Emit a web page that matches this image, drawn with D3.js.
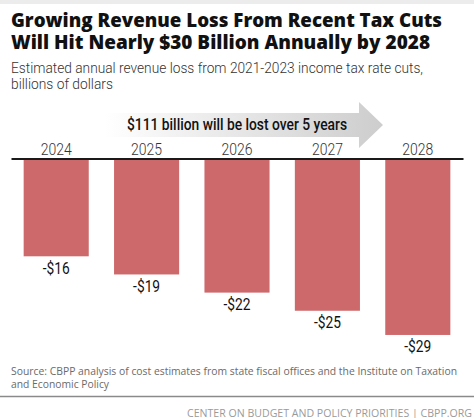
<!DOCTYPE html>
<html><head><meta charset="utf-8">
<script src="https://cdn.jsdelivr.net/npm/d3@7"></script>
<style>body{margin:0;background:#fff}svg{display:block}</style>
</head><body>
<script>
const years = ["2024","2025","2026","2027","2028"];
const losses = [16, 19, 22, 25, 29];
const valueLabels = ["-$16","-$19","-$22","-$25","-$29"];
const titleLines = ["Growing Revenue Loss From Recent Tax Cuts","Will Hit Nearly $30 Billion Annually by 2028"];
const subtitleLines = ["Estimated annual revenue loss from 2021-2023 income tax rate cuts,","billions of dollars"];
const arrowText = "$111 billion will be lost over 5 years";
const sourceLines = ["Source: CBPP analysis of cost estimates from state fiscal offices and the Institute on Taxation","and Economic Policy"];
const footer = "CENTER ON BUDGET AND POLICY PRIORITIES | CBPP.ORG";

const W = 474, H = 418;
const svg = d3.select("body").append("svg").attr("width", W).attr("height", H);
svg.append("rect").attr("width", W).attr("height", H).attr("fill", "#fff");
svg.append("rect").attr("width", W).attr("height", 4).attr("fill", "#ececec");

function fit(sel, len){ sel.attr("textLength", len).attr("lengthAdjust", "spacingAndGlyphs"); }

// Title
const titleW = [431, 419];
titleLines.forEach((t,i)=>{
  svg.append("text").attr("x", 11).attr("y", 27 + i*21.5)
    .attr("font-family","'Open Sans', sans-serif").attr("font-weight",800).attr("font-size",19.5)
    .attr("fill","#111").text(t).call(fit, titleW[i]);
});
const subW = [412, 102];
subtitleLines.forEach((t,i)=>{
  svg.append("text").attr("x", 11).attr("y", 73 + i*15.5)
    .attr("font-family","Roboto, sans-serif").attr("font-weight",300).attr("font-size",14.5)
    .attr("fill","#333").text(t).call(fit, subW[i]);
});

// Arrow
const defs = svg.append("defs");
const grad = defs.append("linearGradient").attr("id","ag").attr("x1","0").attr("x2","1").attr("y1","0").attr("y2","0");
grad.append("stop").attr("offset","0%").attr("stop-color","#ffffff");
grad.append("stop").attr("offset","25%").attr("stop-color","#f2f2f2");
grad.append("stop").attr("offset","100%").attr("stop-color","#cdcdcd");
const arrowPath = d3.path();
arrowPath.moveTo(105,113); arrowPath.lineTo(359,113); arrowPath.lineTo(359,102);
arrowPath.lineTo(383,125); arrowPath.lineTo(359,148); arrowPath.lineTo(359,137);
arrowPath.lineTo(105,137); arrowPath.closePath();
svg.append("path").attr("d", arrowPath.toString()).attr("fill","url(#ag)");
svg.append("text").attr("x",127).attr("y",130)
  .attr("font-family","Roboto, sans-serif").attr("font-weight",500).attr("font-size",16.5)
  .attr("fill","#111").text(arrowText).call(fit, 220);

// Scales
const x = d3.scaleBand().domain(years).range([11, 463]).paddingInner(0.28).paddingOuter(0.14);
const y = d3.scaleLinear().domain([0, 30]).range([159.5, 341]);

// Bars
svg.append("g").selectAll("rect").data(years).join("rect")
  .attr("x", d=>x(d)).attr("width", x.bandwidth())
  .attr("y", y(0)).attr("height", (d,i)=>y(losses[i]) - y(0))
  .attr("fill","#cd686b");

// Value labels
svg.append("g").selectAll("text").data(years).join("text")
  .attr("x", d=>x(d)+x.bandwidth()/2).attr("y", (d,i)=>y(losses[i]) + 17.5)
  .attr("text-anchor","middle")
  .attr("font-family","Roboto, sans-serif").attr("font-weight",400).attr("font-size",17)
  .attr("fill","#111").text((d,i)=>valueLabels[i])
  .each(function(){ d3.select(this).call(fit, 27); });

// Axis
const axis = svg.append("g").attr("transform","translate(0,158.5)")
  .call(d3.axisTop(x).tickSize(0).tickSizeOuter(0).tickPadding(4));
axis.select(".domain").attr("stroke","#1a1a1a").attr("stroke-width",2);
axis.selectAll(".tick text")
  .attr("font-family","Roboto, sans-serif").attr("font-weight",300).attr("font-size",17)
  .attr("fill","#333").attr("dy", "0").each(function(){ d3.select(this).call(fit, 31); });

// Source
const srcW = [446, 98];
sourceLines.forEach((t,i)=>{
  svg.append("text").attr("x", 11).attr("y", 375 + i*12.5)
    .attr("font-family","'Open Sans', sans-serif").attr("font-weight",400).attr("font-size",10.2)
    .attr("fill","#6a6a6a").text(t).call(fit, srcW[i]);
});
svg.append("line").attr("x1",0).attr("x2",W).attr("y1",396.5).attr("y2",396.5)
  .attr("stroke","#8a8a8a").attr("stroke-width",1.5);
svg.append("text").attr("x", 472).attr("y", 416.5).attr("text-anchor","end")
  .attr("font-family","'Open Sans', sans-serif").attr("font-size",10.5)
  .attr("fill","#9a9a9a").text(footer).call(fit, 285);
</script>
</body></html>
